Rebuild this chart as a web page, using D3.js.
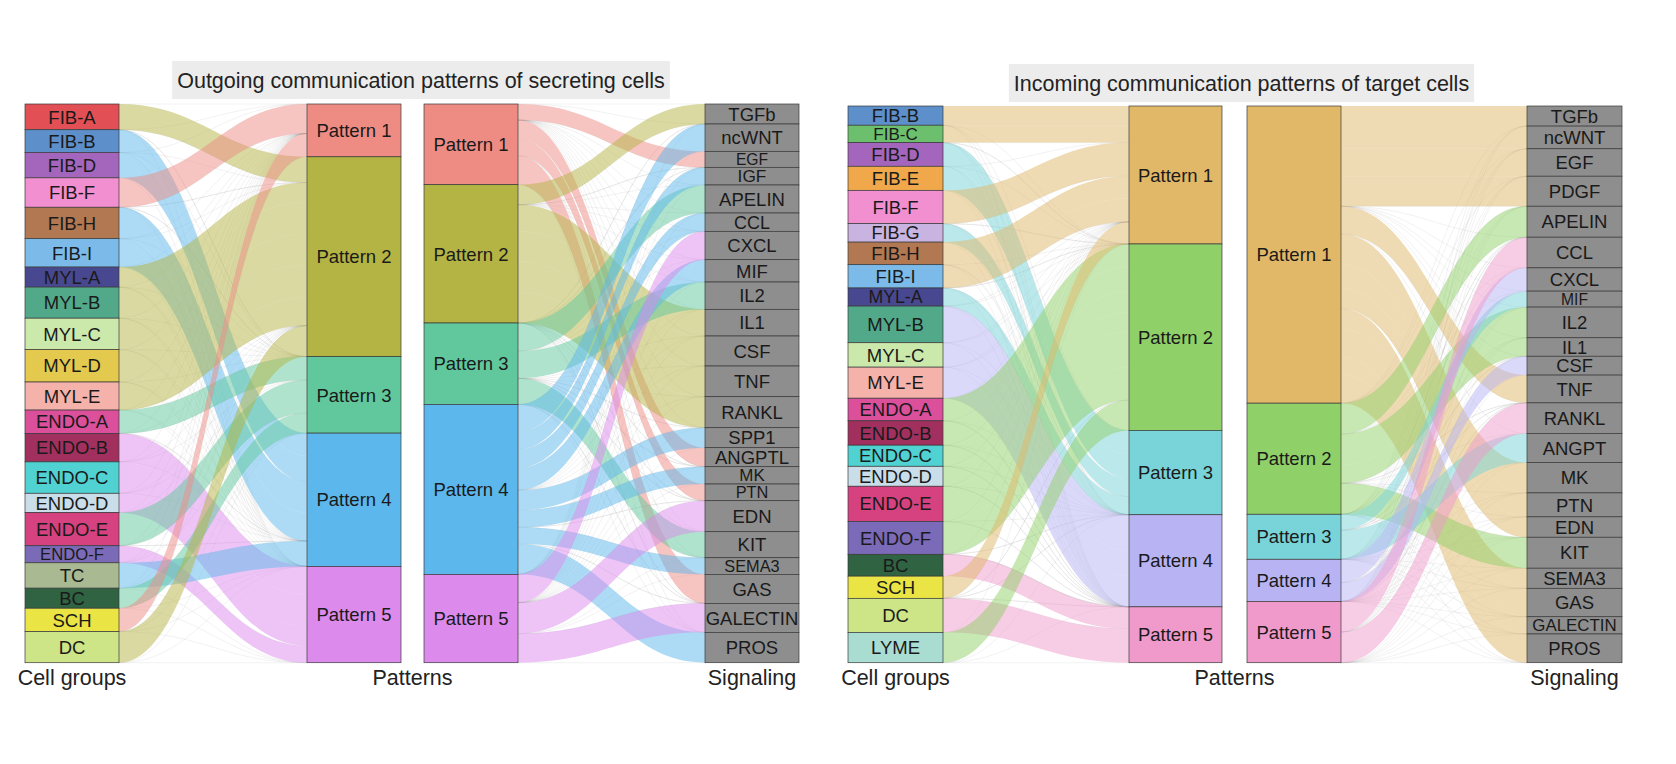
<!DOCTYPE html>
<html><head><meta charset="utf-8">
<script src="https://cdn.jsdelivr.net/npm/d3@7"></script>
<style>body{margin:0;background:#fff;} svg{display:block;font-family:"Liberation Sans",Arial,Helvetica,sans-serif;}</style>
</head><body><svg id="c" width="1676" height="764"></svg>
<script>
// ===== Outgoing communication patterns of secreting cells =====
const outPatterns = ["Pattern 1","Pattern 2","Pattern 3","Pattern 4","Pattern 5"];
const outCells = ["FIB-A","FIB-B","FIB-D","FIB-F","FIB-H","FIB-I","MYL-A","MYL-B","MYL-C","MYL-D","MYL-E","ENDO-A","ENDO-B","ENDO-C","ENDO-D","ENDO-E","ENDO-F","TC","BC","SCH","DC"];
const outCellPattern = [2,4,4,1,4,4,2,2,2,2,2,3,5,5,5,3,5,4,3,1,2];
const outCellContribution = [0.77,0.68,0.76,0.88,0.94,0.85,0.60,0.93,0.94,0.97,0.84,0.70,0.85,0.94,0.58,0.99,0.51,0.76,0.60,0.70,0.93];
const outSignals = ["TGFb","ncWNT","EGF","IGF","APELIN","CCL","CXCL","MIF","IL2","IL1","CSF","TNF","RANKL","SPP1","ANGPTL","MK","PTN","EDN","KIT","SEMA3","GAS","GALECTIN","PROS"];
const outSignalPattern = [2,4,1,4,3,4,5,4,3,2,2,2,2,4,1,4,1,5,3,4,1,5,4];
const outSignalContribution = [0.60,0.82,0.48,0.53,0.84,0.55,0.85,0.67,0.82,0.80,0.90,0.92,0.93,0.60,0.57,0.52,0.50,0.93,0.78,0.50,0.87,0.87,0.91];

// ===== Incoming communication patterns of target cells =====
const inPatterns = ["Pattern 1","Pattern 2","Pattern 3","Pattern 4","Pattern 5"];
const inCells = ["FIB-B","FIB-C","FIB-D","FIB-E","FIB-F","FIB-G","FIB-H","FIB-I","MYL-A","MYL-B","MYL-C","MYL-E","ENDO-A","ENDO-B","ENDO-C","ENDO-D","ENDO-E","ENDO-F","BC","SCH","DC","LYME"];
const inCellPattern = [1,1,3,3,1,3,1,1,3,4,4,4,2,2,2,2,2,2,5,1,5,2];
const inCellContribution = [0.52,0.47,0.64,0.65,0.90,0.50,0.61,0.63,0.49,0.99,0.66,0.84,0.61,0.66,0.57,0.54,0.95,0.89,0.59,0.60,0.92,0.82];
const inSignals = ["TGFb","ncWNT","EGF","PDGF","APELIN","CCL","CXCL","MIF","IL2","IL1","CSF","TNF","RANKL","ANGPT","MK","PTN","EDN","KIT","SEMA3","GAS","GALECTIN","PROS"];
const inSignalPattern = [1,1,1,1,2,5,4,3,2,2,4,1,5,3,1,1,1,2,1,1,1,1];
const inSignalContribution = [0.63,0.71,0.86,0.94,0.97,0.96,0.73,0.50,0.96,0.58,0.59,0.87,0.96,0.91,0.95,0.75,0.64,0.97,0.63,0.89,0.54,0.90];

// ===== styles =====
const outPatternColors = ["#ee8c84","#b4b444","#60c89c","#5cb8ec","#dc8aec"];
const inPatternColors  = ["#e0b868","#90d068","#78d4d8","#b8b4f4","#f09acc"];
const cellColors = {"FIB-A":"#e24f55","FIB-B":"#5d8fca","FIB-C":"#6cbf6c","FIB-D":"#a466bd","FIB-E":"#f0a84a","FIB-F":"#f28fd0","FIB-G":"#c9b3e0","FIB-H":"#b27852","FIB-I":"#7cbbe9","MYL-A":"#484890","MYL-B":"#52a98a","MYL-C":"#cbe9ab","MYL-D":"#e3c94e","MYL-E":"#f5b2aa","ENDO-A":"#db4f9b","ENDO-B":"#a2305f","ENDO-C":"#50d2d2","ENDO-D":"#cadeea","ENDO-E":"#d6417f","ENDO-F":"#7a6ab8","TC":"#a9ba93","BC":"#2f6342","SCH":"#eae444","DC":"#cde487","LYME":"#a9ddd2"};
const signalColor = "#8e8e8e";

const svg = d3.select("#c");

function ribbon(xa, ya0, ya1, xb, yb0, yb1) {
  const k = 0.45 * (xb - xa);
  return `M${xa},${ya0}C${xa+k},${ya0} ${xb-k},${yb0} ${xb},${yb0}L${xb},${yb1}C${xb-k},${yb1} ${xa+k},${ya1} ${xa},${ya1}Z`;
}
function curve(xa, ya, xb, yb) {
  const k = 0.45 * (xb - xa);
  return `M${xa},${ya}C${xa+k},${ya} ${xb-k},${yb} ${xb},${yb}`;
}

function drawHalf(g, leftNames, rightNames, links, xL, xR, yTop, yBot, leftFill, rightFill, flowColor, labelSize) {
  const nL = leftNames.length, nR = rightNames.length;
  const total = d3.sum(links, d => d.v);
  const y = d3.scaleLinear().domain([0, total]).range([yTop, yBot]);
  const sumL = new Array(nL).fill(0), sumR = new Array(nR).fill(0);
  links.forEach(l => { sumL[l.s] += l.v; sumR[l.t] += l.v; });
  const startL = [], startR = [];
  let acc = 0; for (let i = 0; i < nL; i++) { startL.push(acc); acc += sumL[i]; }
  acc = 0; for (let i = 0; i < nR; i++) { startR.push(acc); acc += sumR[i]; }
  for (let i = 0; i < nL; i++) {
    let a = startL[i];
    links.filter(l => l.s === i).sort((p, q) => p.t - q.t).forEach(l => { l.a0 = a; a += l.v; l.a1 = a; });
  }
  for (let j = 0; j < nR; j++) {
    let a = startR[j];
    links.filter(l => l.t === j).sort((p, q) => p.s - q.s).forEach(l => { l.b0 = a; a += l.v; l.b1 = a; });
  }
  const xa = xL[1], xb = xR[0];
  g.append("g").selectAll("path").data(links.filter(l => l.v === 0)).join("path")
    .attr("d", l => curve(xa, y(l.a0), xb, y(l.b0)))
    .attr("fill", "none").attr("stroke", "#9a9a9a").attr("stroke-opacity", 0.22).attr("stroke-width", 0.6);
  g.append("g").selectAll("path").data(links.filter(l => l.v > 0)).join("path")
    .attr("d", l => ribbon(xa, y(l.a0), y(l.a1), xb, y(l.b0), y(l.b1)))
    .attr("fill", l => flowColor(l)).attr("fill-opacity", 0.5).attr("stroke", "none");
  function nodes(names, start, sums, xr, fill) {
    const ng = g.append("g");
    const h = i => y(start[i] + sums[i]) - y(start[i]);
    ng.selectAll("rect").data(names).join("rect")
      .attr("x", xr[0]).attr("width", xr[1] - xr[0])
      .attr("y", (d, i) => y(start[i])).attr("height", (d, i) => h(i))
      .attr("fill", (d, i) => fill(d, i)).attr("stroke", "#3a3a3a").attr("stroke-width", 0.7);
    ng.selectAll("text").data(names).join("text")
      .attr("x", (xr[0] + xr[1]) / 2).attr("y", (d, i) => y(start[i] + sums[i] / 2))
      .attr("dy", "0.36em").attr("text-anchor", "middle")
      .attr("font-size", (d, i) => Math.min(labelSize, h(i) * 0.95 + 0.5))
      .attr("fill", "#1a1a1a").text(d => d);
  }
  nodes(leftNames, startL, sumL, xL, leftFill);
  nodes(rightNames, startR, sumR, xR, rightFill);
}

function buildCellLinks(cellPattern, contrib, nP) {
  const links = [];
  cellPattern.forEach((p, i) => { for (let j = 0; j < nP; j++) links.push({ s: i, t: j, v: (j === p - 1) ? contrib[i] : 0 }); });
  return links;
}
function buildSignalLinks(sigPattern, contrib, nP) {
  const links = [];
  for (let j = 0; j < nP; j++) sigPattern.forEach((p, i) => links.push({ s: j, t: i, v: (j === p - 1) ? contrib[i] : 0 }));
  return links;
}

function panel(cfg) {
  const g = svg.append("g");
  const tg = g.append("g");
  const tbox = tg.append("rect").attr("fill", "#ececec");
  const tt = tg.append("text").attr("x", cfg.titleX).attr("y", cfg.titleY).attr("text-anchor", "middle")
    .attr("font-size", 21.5).attr("fill", "#222").text(cfg.title);
  const w = tt.node().getComputedTextLength();
  tbox.attr("x", cfg.titleX - w / 2 - 5).attr("width", w + 10).attr("y", cfg.titleY - 27).attr("height", 38);

  const nP = cfg.patterns.length;
  const l1 = buildCellLinks(cfg.cellPattern, cfg.cellContrib, nP);
  drawHalf(g, cfg.cells, cfg.patterns, l1, cfg.xCells, cfg.xP1, cfg.yTop, cfg.yBot,
    d => cellColors[d], (d, i) => cfg.pColors[i], l => cfg.pColors[l.t], 18.5);
  const l2 = buildSignalLinks(cfg.sigPattern, cfg.sigContrib, nP);
  drawHalf(g, cfg.patterns, cfg.signals, l2, cfg.xP2, cfg.xSig, cfg.yTop, cfg.yBot,
    (d, i) => cfg.pColors[i], () => signalColor, l => cfg.pColors[l.s], 18.5);
  const labs = [["Cell groups", (cfg.xCells[0] + cfg.xCells[1]) / 2],
                ["Patterns", (cfg.xP1[1] + cfg.xP2[0]) / 2],
                ["Signaling", (cfg.xSig[0] + cfg.xSig[1]) / 2]];
  g.selectAll("text.ax").data(labs).join("text").attr("class", "ax")
    .attr("x", d => d[1]).attr("y", 685).attr("text-anchor", "middle").attr("font-size", 21.5)
    .attr("fill", "#222").text(d => d[0]);
}

panel({ title: "Outgoing communication patterns of secreting cells", titleX: 421, titleY: 88,
  cells: outCells, cellPattern: outCellPattern, cellContrib: outCellContribution,
  patterns: outPatterns, signals: outSignals, sigPattern: outSignalPattern, sigContrib: outSignalContribution,
  pColors: outPatternColors, xCells: [25, 119], xP1: [307, 401], xP2: [424, 518], xSig: [705, 799],
  yTop: 104, yBot: 662.7 });

panel({ title: "Incoming communication patterns of target cells", titleX: 1241.5, titleY: 91,
  cells: inCells, cellPattern: inCellPattern, cellContrib: inCellContribution,
  patterns: inPatterns, signals: inSignals, sigPattern: inSignalPattern, sigContrib: inSignalContribution,
  pColors: inPatternColors, xCells: [848, 943], xP1: [1129, 1222], xP2: [1247, 1341], xSig: [1527, 1622],
  yTop: 106, yBot: 662.7 });
</script></body></html>
